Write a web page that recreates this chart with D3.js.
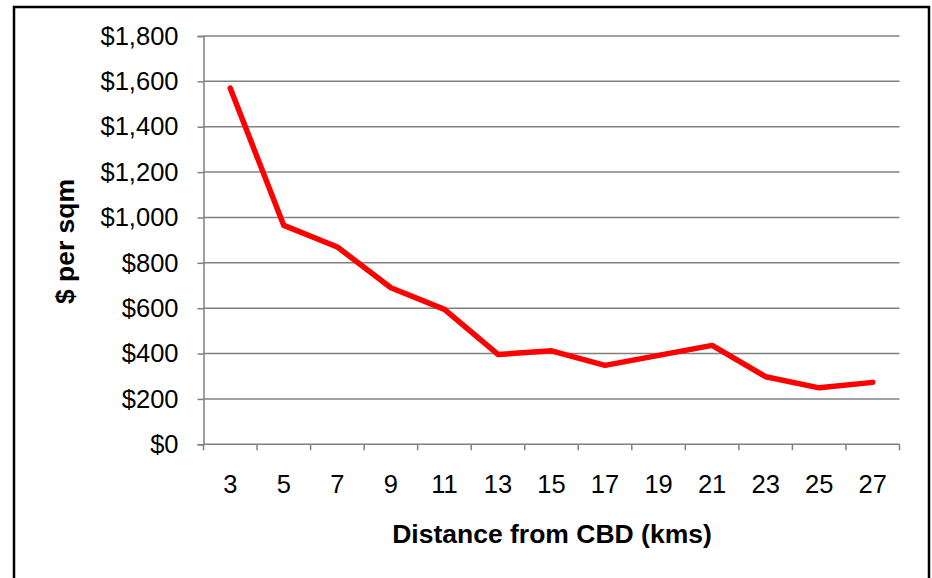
<!DOCTYPE html>
<html>
<head>
<meta charset="utf-8">
<script src="https://cdn.jsdelivr.net/npm/d3@7"></script>
<style>
  html, body { margin: 0; padding: 0; background: #fff; }
  svg { display: block; font-family: "Liberation Sans", Arial, sans-serif; }
</style>
</head>
<body>
<svg id="chart" width="932" height="578"></svg>
<script>
// Land value per square metre by distance from the CBD
const distances = [3, 5, 7, 9, 11, 13, 15, 17, 19, 21, 23, 25, 27];
const pricePerSqm = [1570, 965, 870, 690, 595, 396, 412, 348, 392, 436, 298, 249, 273];
const yTicks = [0, 200, 400, 600, 800, 1000, 1200, 1400, 1600, 1800];

const svg = d3.select("#chart");
const plot = { left: 203.5, right: 899.5, top: 36, bottom: 444.3 };

// outer frame
svg.append("rect")
  .attr("x", 14).attr("y", 7)
  .attr("width", 915).attr("height", 600)
  .attr("fill", "none").attr("stroke", "#000").attr("stroke-width", 2.5);

const x = d3.scaleBand().domain(distances).range([plot.left, plot.right]);
const y = d3.scaleLinear().domain([0, 1800]).range([plot.bottom, plot.top]);

const grey = "#808080";

// horizontal gridlines
svg.append("g").selectAll("line")
  .data(yTicks.filter(d => d > 0))
  .join("line")
  .attr("x1", plot.left).attr("x2", plot.right)
  .attr("y1", d => y(d)).attr("y2", d => y(d))
  .attr("stroke", grey).attr("stroke-width", 1.5);

// y axis
const yAxis = svg.append("g")
  .attr("transform", `translate(${plot.left},0)`)
  .call(d3.axisLeft(y).tickValues(yTicks).tickSize(6).tickPadding(19)
    .tickFormat(d => "$" + d3.format(",")(d)));
yAxis.select(".domain").attr("stroke", grey).attr("stroke-width", 1.5);
yAxis.selectAll(".tick line").attr("stroke", grey).attr("stroke-width", 1.5);
yAxis.selectAll(".tick text")
  .attr("fill", "#000").attr("font-size", 25.5)
  .attr("font-family", "Liberation Sans, Arial, sans-serif");

// x axis: baseline with tick marks on category boundaries
const xg = svg.append("g").attr("transform", `translate(0,${plot.bottom})`);
xg.append("line")
  .attr("x1", plot.left).attr("x2", plot.right)
  .attr("stroke", grey).attr("stroke-width", 1.5);
const bounds = distances.map(d => x(d)).concat([x(distances[distances.length - 1]) + x.bandwidth()]);
xg.selectAll("line.tk").data(bounds).join("line")
  .attr("class", "tk")
  .attr("x1", d => d).attr("x2", d => d)
  .attr("y1", 0).attr("y2", 6)
  .attr("stroke", grey).attr("stroke-width", 1.5);
xg.selectAll("text").data(distances).join("text")
  .attr("x", d => x(d) + x.bandwidth() / 2)
  .attr("y", 49)
  .attr("text-anchor", "middle")
  .attr("font-size", 25.5)
  .attr("fill", "#000")
  .text(d => d);

// price line
const line = d3.line()
  .x((d, i) => x(distances[i]) + x.bandwidth() / 2)
  .y(d => y(d));
svg.append("path")
  .datum(pricePerSqm)
  .attr("d", line)
  .attr("fill", "none")
  .attr("stroke", "#ff0000")
  .attr("stroke-width", 5.5)
  .attr("stroke-linejoin", "round")
  .attr("stroke-linecap", "round");

// axis titles
svg.append("text")
  .attr("x", (plot.left + plot.right) / 2 + 0.5)
  .attr("y", 543)
  .attr("text-anchor", "middle")
  .attr("font-size", 26.5).attr("font-weight", "bold")
  .text("Distance from CBD (kms)");

svg.append("text")
  .attr("transform", "translate(74,241.5) rotate(-90)")
  .attr("text-anchor", "middle")
  .attr("font-size", 26.5).attr("font-weight", "bold")
  .text("$ per sqm");
</script>
</body>
</html>
